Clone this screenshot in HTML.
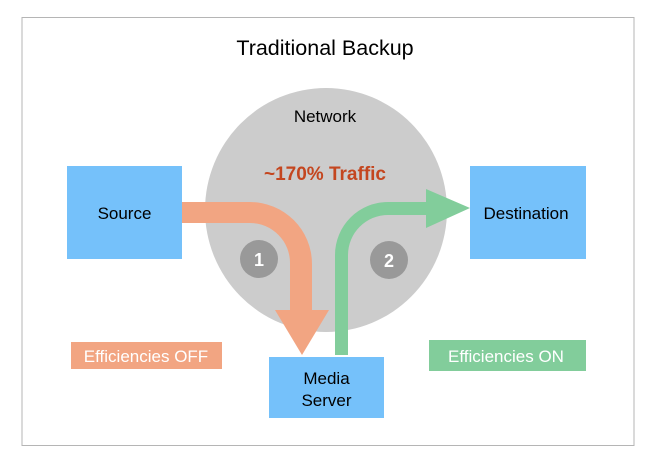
<!DOCTYPE html>
<html><head><style>
html,body{margin:0;padding:0;background:#fff;}
svg{display:block;font-family:"Liberation Sans",Arial,sans-serif;}
</style></head><body>
<svg width="650" height="468" viewBox="0 0 650 468">
<rect x="22" y="17.5" width="612" height="428" fill="#fff" stroke="#b5b5b5" stroke-width="1"/>
<text x="325" y="55" font-size="21.5" text-anchor="middle" fill="#000">Traditional Backup</text>
<ellipse cx="326" cy="210" rx="121" ry="122" fill="#cccccc"/>
<text x="325" y="122" font-size="17" text-anchor="middle" fill="#000">Network</text>
<text x="325" y="180" font-size="19" font-weight="bold" text-anchor="middle" fill="#c4461f">~170% Traffic</text>
<rect x="67" y="166" width="115" height="93" fill="#75c1fa"/>
<text x="124.5" y="219" font-size="17" text-anchor="middle">Source</text>
<rect x="470" y="166" width="116" height="93" fill="#75c1fa"/>
<text x="526" y="219" font-size="17" text-anchor="middle">Destination</text>
<rect x="269" y="357" width="115" height="61" fill="#75c1fa"/>
<text x="326.5" y="384" font-size="17" text-anchor="middle">Media</text>
<text x="326.5" y="406" font-size="17" text-anchor="middle">Server</text>
<!-- orange arrow -->
<path d="M182 202 L250 202 A62 62 0 0 1 312 264 L312 310 L329 310 L302 355 L275 310 L290 310 L290 264 A40 40 0 0 0 250 223 L182 223 Z" fill="#f2a582"/>
<!-- green arrow -->
<path d="M335 355 L335 255 A53 53 0 0 1 388 202 L426 202 L426 189 L470 208 L426 228 L426 215 L388 215 A40 40 0 0 0 348 255 L348 355 Z" fill="#82cd9b"/>
<ellipse cx="259" cy="259" rx="19" ry="19" fill="#999"/>
<text x="259" y="266" font-size="18" font-weight="bold" text-anchor="middle" fill="#fff">1</text>
<ellipse cx="389" cy="260" rx="19" ry="19" fill="#999"/>
<text x="389" y="267" font-size="18" font-weight="bold" text-anchor="middle" fill="#fff">2</text>
<rect x="71" y="342" width="151" height="27" fill="#f2a582"/>
<text x="146" y="362" font-size="17" text-anchor="middle" fill="#fff">Efficiencies OFF</text>
<rect x="429" y="340" width="157" height="31" fill="#82cd9b"/>
<text x="506" y="362" font-size="17" text-anchor="middle" fill="#fff">Efficiencies ON</text>
</svg>
</body></html>
